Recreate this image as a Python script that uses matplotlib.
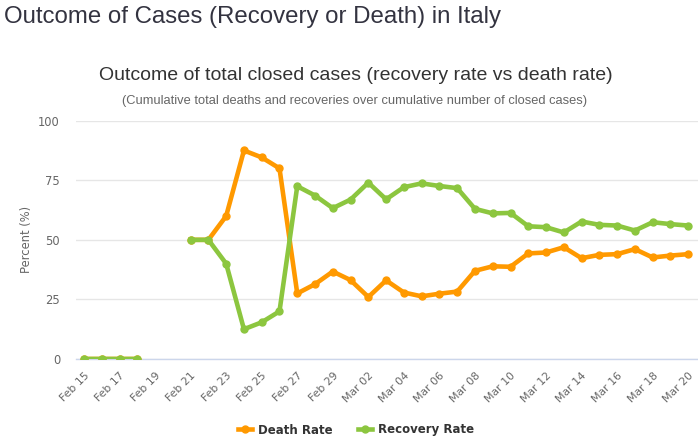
import matplotlib
matplotlib.use("Agg")
import matplotlib.pyplot as plt
import numpy as np

dates = ["Feb 15", "Feb 16", "Feb 17", "Feb 18", "Feb 19", "Feb 20", "Feb 21", "Feb 22",
         "Feb 23", "Feb 24", "Feb 25", "Feb 26", "Feb 27", "Feb 28", "Feb 29",
         "Mar 01", "Mar 02", "Mar 03", "Mar 04", "Mar 05", "Mar 06", "Mar 07",
         "Mar 08", "Mar 09", "Mar 10", "Mar 11", "Mar 12", "Mar 13", "Mar 14",
         "Mar 15", "Mar 16", "Mar 17", "Mar 18", "Mar 19", "Mar 20"]
death_rate = [0, 0, 0, 0, None, None, 50, 50,
              60.0, 87.5, 84.6, 80.0, 27.5, 31.4, 36.7,
              33.1, 26.0, 33.0, 27.9, 26.3, 27.4, 28.3,
              37.0, 38.9, 38.7, 44.3, 44.7, 46.9, 42.3,
              43.7, 44.0, 46.1, 42.6, 43.4, 44.0]
recovery_rate = [0, 0, 0, 0, None, None, 50, 50,
                 40.0, 12.5, 15.4, 20.0, 72.5, 68.6, 63.3,
                 66.9, 74.0, 67.0, 72.1, 73.7, 72.6, 71.7,
                 63.0, 61.1, 61.3, 55.7, 55.3, 53.1, 57.7,
                 56.3, 56.0, 53.9, 57.4, 56.6, 56.0]
y_ticks = [0, 25, 50, 75, 100]

ORANGE = "#FF9900"
GREEN = "#8CC63F"

fig = plt.figure(figsize=(6.98, 4.47), dpi=100)
ax = fig.add_axes([76 / 698, 88 / 447, 622 / 698, 238.3 / 447])

x = np.arange(len(dates))
d = np.array([np.nan if v is None else v for v in death_rate], dtype=float)
r = np.array([np.nan if v is None else v for v in recovery_rate], dtype=float)

ax.plot(x, d, color=ORANGE, lw=3.3, marker="o", ms=5, label="Death Rate",
        solid_joinstyle="round", zorder=3)
ax.plot(x, r, color=GREEN, lw=3.3, marker="o", ms=5, label="Recovery Rate",
        solid_joinstyle="round", zorder=4)

ax.set_xlim(-0.45, len(dates) - 1 + 0.55)
ax.set_ylim(0, 100)
ax.set_yticks(y_ticks)
ax.set_yticklabels([str(t) for t in y_ticks])
ax.grid(axis="y", color="#e6e6e6", lw=1)
ax.set_axisbelow(True)
for s in ["top", "right", "left"]:
    ax.spines[s].set_visible(False)
ax.spines["bottom"].set_color("#ccd6eb")
ax.spines["bottom"].set_linewidth(1)

sans = ["DejaVu Sans"]
ax.set_xticks(x[::2])
ax.set_xticklabels(dates[::2], rotation=45, ha="right", rotation_mode="anchor",
                   fontsize=7.8, color="#666666", family=sans)
ax.tick_params(axis="x", length=0, pad=8)
ax.tick_params(axis="y", length=0, pad=11.5)
for lab in ax.get_yticklabels():
    lab.set_fontsize(8.3)
    lab.set_color("#666666")
    lab.set_family(sans)
ax.set_ylabel("Percent (%)", fontsize=8.3, color="#666666", family=sans, labelpad=4)

fig.text(4 / 698, 1 - 17 / 447, "Outcome of Cases (Recovery or Death) in Italy",
         fontsize=17.3, color="#333340", family="Liberation Sans", va="center", ha="left")
fig.text(356 / 698, 1 - 75 / 447, "Outcome of total closed cases (recovery rate vs death rate)",
         fontsize=14.0, color="#333333", family="Liberation Sans", va="center", ha="center")
fig.text(355 / 698, 1 - 101 / 447,
         "(Cumulative total deaths and recoveries over cumulative number of closed cases)",
         fontsize=9.3, color="#666666", family="Liberation Sans", va="center", ha="center")

leg = fig.legend(handles=ax.get_lines(), loc="center", bbox_to_anchor=(356 / 698, 1 - 430 / 447),
                 ncol=2, frameon=False, handlelength=1.2, handletextpad=0.5, columnspacing=2.2,
                 prop={"family": "DejaVu Sans", "weight": "bold", "size": 8.5})
for t in leg.get_texts():
    t.set_color("#333333")

fig.savefig("out.png", dpi=100, facecolor="white")
